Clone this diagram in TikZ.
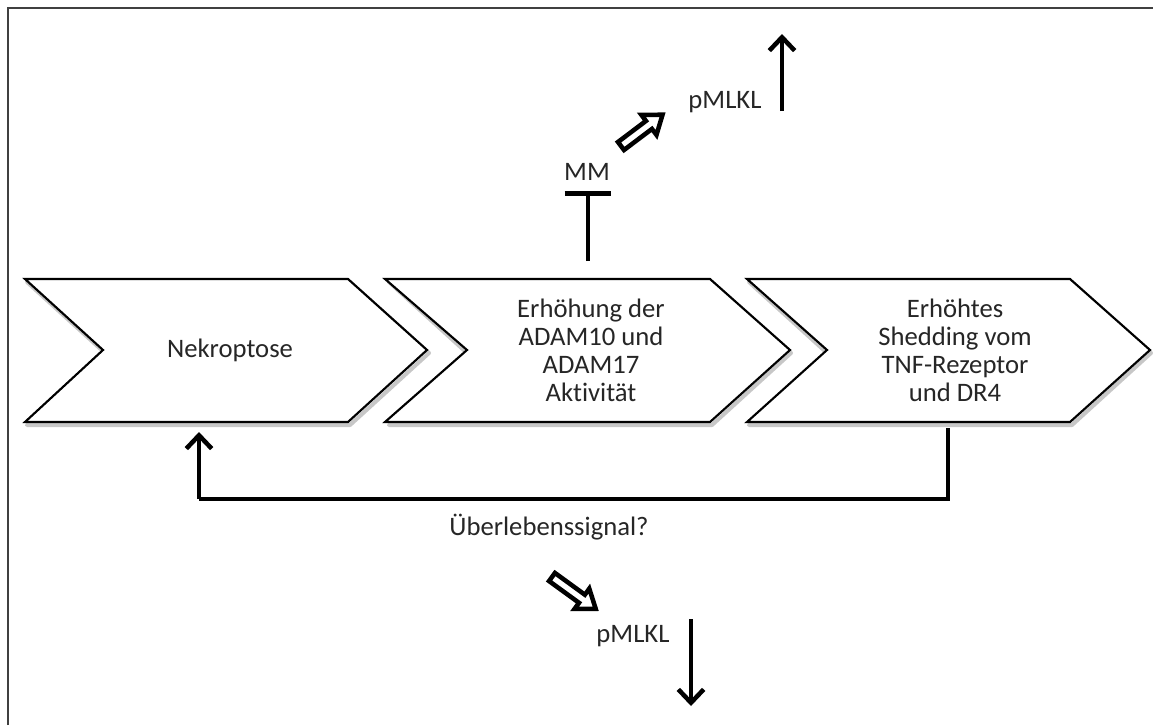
\documentclass[tikz,border=0pt]{standalone}
\usepackage{fontspec}
\setmainfont{Carlito}[Ligatures={NoCommon,NoContextual}]
\usetikzlibrary{arrows.meta}
\begin{document}
\begin{tikzpicture}[x=0.75pt,y=-0.75pt,
  chev/.style={draw=black, line width=1.6pt, fill=white, line join=miter},
  chevshadow/.style={draw=black!22, line width=3pt, line join=round},
  lbl/.style={font=\fontsize{20}{21}\selectfont, align=center, inner sep=0pt, text=black!85},
  barbarrow/.style={line width=3.4pt, -{Straight Barb[length=10pt,width=19pt]}},
  inhib/.style={line width=3.2pt, -{Bar[width=35pt,line width=3.8pt]}},
  feedback/.style={line width=3.4pt, line join=miter},
  hollow/.style={draw=black, line width=3.4pt, fill=white, line join=miter},
  frameline/.style={draw=black!75, line width=2pt}]
\useasboundingbox (0,0) rectangle (1153,725);
% frame (top and left only)
\draw[frameline] (8,725) -- (8,8) -- (1153,8);
% chevron shadows
\foreach \dx in {0,362,722}{
  \draw[chevshadow, shift={(\dx+2,3)}] (25,279) -- (348,279) -- (427,350) -- (348,422) -- (25,422) -- (103,350) -- cycle;
}
% chevrons
\draw[chev] (25,279) -- (348,279) -- (427,350) -- (348,422) -- (25,422) -- (103,350) -- cycle;
\draw[chev] (385,279) -- (710,279) -- (790,350) -- (710,422) -- (385,422) -- (467,350) -- cycle;
\draw[chev] (747,279) -- (1070,279) -- (1150,350) -- (1070,422) -- (747,422) -- (827,350) -- cycle;
% chevron texts
\node[lbl] (nekro) at (230,350) {Nekroptose};
\node[lbl] (adam) at (591,350) {Erhöhung der\\ADAM10 und\\ADAM17\\Aktivität};
\node[lbl] (shed) at (955,350) {Erhöhtes\\Shedding vom\\TNF-Rezeptor\\und DR4};
% connection points on chevrons
\coordinate (adamtop) at (588,261);
\coordinate (mmbar) at (588,191);
\coordinate (shedbot) at (948,428);
\coordinate (nekrobot) at (199,432);
\coordinate (fbR) at (948,499);
\coordinate (fbL) at (199,499);
% top part
\node[lbl, anchor=base] (mm) at (587,180) {MM};
\draw[inhib] (adamtop) -- (mmbar);
\node[lbl, anchor=base] (pmlklTop) at (725,108) {pMLKL};
\coordinate (upS) at (782,111);
\coordinate (upE) at (782,34);
\draw[barbarrow] (upS) -- (upE);
\draw[hollow, shift={(621,146)}, rotate=37]
  (0,-5) -- (35,-5) -- (35,-12.5) -- (52,0) -- (35,12.5) -- (35,5) -- (0,5) -- cycle;
% feedback loop
\draw[feedback] (shedbot) -- (fbR) -- (fbL);
\draw[barbarrow] (fbL) -- (nekrobot);
\node[lbl, anchor=base] (ueber) at (549,535) {Überlebenssignal?};
% bottom part
\draw[hollow, shift={(552,577)}, rotate=-36]
  (0,-5) -- (37,-5) -- (37,-12.5) -- (54,0) -- (37,12.5) -- (37,5) -- (0,5) -- cycle;
\node[lbl, anchor=base] (pmlklBot) at (633,642) {pMLKL};
\coordinate (downS) at (691,619);
\coordinate (downE) at (691,706);
\draw[barbarrow] (downS) -- (downE);
\end{tikzpicture}
\end{document}
